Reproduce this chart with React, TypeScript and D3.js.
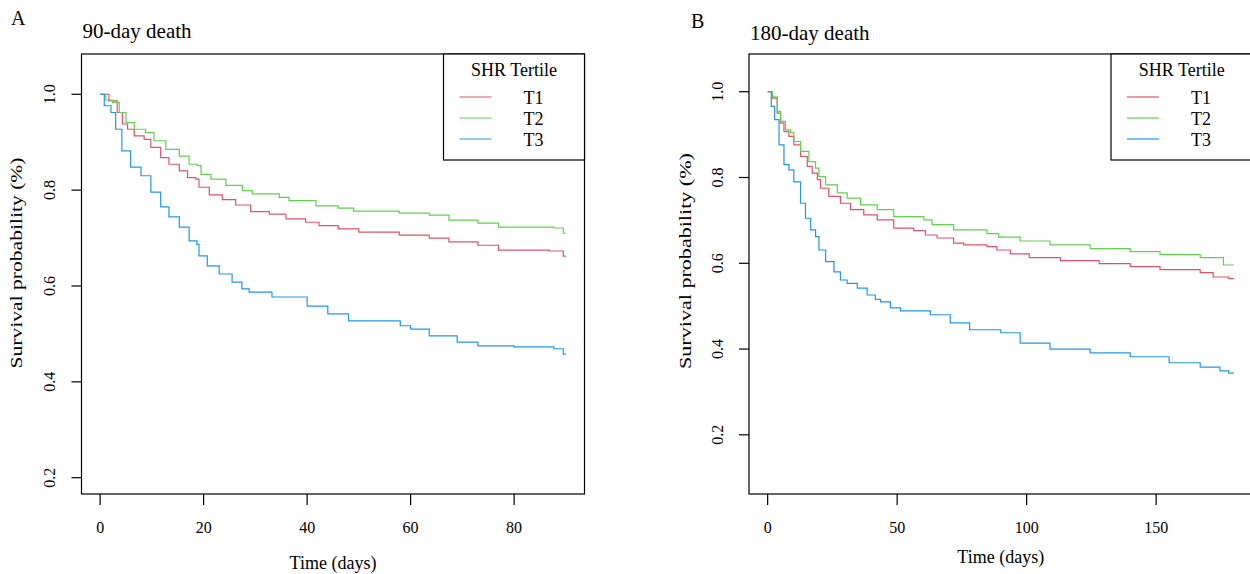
import React from "react";
import * as d3 from "d3";

// ---------- data ----------
const seriesNames = ["T1", "T2", "T3"];
const seriesColors = ["#DF536B", "#61D04F", "#2297E6"];

// Panel A: 90-day death
const a_T1_t = [0, 1.7, 3.3, 4.3, 5.3, 6.6, 8.5, 9.8, 11.7, 13.3, 15.3, 16.9, 18.5, 19.1, 21.1, 23.6, 26.2, 29.1, 32.7, 35.9, 39.7, 42.3, 46, 50, 57.8, 63.6, 67.4, 73, 77, 86.8, 89.5, 90];
const a_T1_s = [1, 0.986, 0.962, 0.938, 0.927, 0.913, 0.906, 0.889, 0.868, 0.854, 0.84, 0.826, 0.823, 0.806, 0.79, 0.78, 0.769, 0.755, 0.75, 0.74, 0.733, 0.726, 0.719, 0.7125, 0.706, 0.7, 0.692, 0.685, 0.675, 0.673, 0.6625, 0.6625];
const a_T2_t = [0, 1.1, 2.4, 3.7, 5, 6.6, 8.8, 10.4, 12.7, 15.3, 17.2, 18.8, 19.5, 21.4, 24.3, 27.5, 29.4, 34.6, 36.5, 41.7, 46, 49, 57.8, 63.6, 67.4, 73, 77, 87.7, 89.5, 90];
const a_T2_s = [1, 0.988, 0.983, 0.962, 0.941, 0.927, 0.92, 0.903, 0.885, 0.871, 0.854, 0.851, 0.833, 0.823, 0.81, 0.799, 0.792, 0.785, 0.778, 0.767, 0.7625, 0.756, 0.752, 0.748, 0.7375, 0.731, 0.723, 0.721, 0.71, 0.71];
const a_T3_t = [0, 0.8, 2.1, 3, 4.2, 5.9, 7.9, 9.8, 11.7, 13.3, 15.3, 17.2, 18.7, 19.1, 20.7, 23, 25.5, 27.4, 28.8, 33.2, 40, 44, 48, 58, 60, 63.6, 69, 73, 80, 87.7, 89.5, 90];
const a_T3_s = [1, 0.976, 0.962, 0.927, 0.882, 0.848, 0.83, 0.796, 0.765, 0.744, 0.723, 0.694, 0.687, 0.663, 0.642, 0.625, 0.608, 0.594, 0.587, 0.577, 0.558, 0.542, 0.527, 0.517, 0.51, 0.496, 0.483, 0.475, 0.473, 0.469, 0.458, 0.458];

// Panel B: 180-day death
const b_T1_t = [0, 1.8, 3.7, 5, 6.3, 8.2, 10.1, 12.7, 15.3, 17.2, 19.2, 20.4, 23.6, 28.1, 32, 37.1, 42.3, 48.7, 56.4, 60.9, 65.4, 71.8, 75.7, 84.7, 88.5, 93.7, 101, 113, 128, 140, 151.5, 167, 172, 178, 180];
const b_T1_s = [1, 0.985, 0.95, 0.927, 0.907, 0.896, 0.876, 0.849, 0.826, 0.81, 0.795, 0.775, 0.756, 0.74, 0.725, 0.713, 0.701, 0.682, 0.676, 0.666, 0.659, 0.647, 0.643, 0.639, 0.631, 0.622, 0.613, 0.606, 0.599, 0.592, 0.585, 0.578, 0.568, 0.564, 0.564];
const b_T2_t = [0, 1.8, 3.7, 5, 6.9, 8.9, 10.1, 12.7, 15.9, 18.5, 19.8, 22.4, 26.9, 30.7, 35.9, 42.3, 48.7, 60.3, 63.5, 71.8, 84.7, 89.2, 97.5, 109, 124.5, 140, 151.5, 167, 176, 180];
const b_T2_s = [1, 0.988, 0.954, 0.931, 0.911, 0.904, 0.884, 0.861, 0.837, 0.822, 0.802, 0.783, 0.764, 0.752, 0.736, 0.725, 0.709, 0.701, 0.69, 0.678, 0.669, 0.661, 0.652, 0.643, 0.634, 0.627, 0.62, 0.613, 0.596, 0.596];
const b_T3_t = [0, 1.4, 2.7, 4.4, 6.3, 8.2, 10.1, 12.7, 14.6, 16.6, 18.5, 19.8, 22.4, 25.6, 28.1, 30.7, 34.6, 38.4, 41.6, 43.6, 47.4, 51.3, 62.8, 70.5, 78, 90, 97.5, 109, 124.5, 140, 155, 167, 174.6, 178, 180];
const b_T3_s = [1, 0.966, 0.935, 0.876, 0.83, 0.818, 0.79, 0.74, 0.705, 0.678, 0.662, 0.631, 0.604, 0.58, 0.561, 0.553, 0.542, 0.526, 0.516, 0.51, 0.496, 0.489, 0.48, 0.461, 0.445, 0.438, 0.414, 0.4, 0.391, 0.382, 0.368, 0.358, 0.349, 0.344, 0.344];

const yTicks = [0.2, 0.4, 0.6, 0.8, 1.0];
const xTicksA = [0, 20, 40, 60, 80];
const xTicksB = [0, 50, 100, 150];

const FONT = "'Liberation Serif', 'DejaVu Serif', serif";

type PanelProps = {
  letter: string;
  letterX: number;
  title: string;
  letterY: number;
  titleY: number;
  left: number;
  right: number;
  xDomain: [number, number];
  yDomain: [number, number];
  xTicks: number[];
  curves: { t: number[]; s: number[] }[];
  legendLeft: number;
  xLabelY: number;
  yLabelX: number;
  yLabelY: number;
  yLabelStretch: number;
  yTickLabelX: number;
};

const TOP = 54;
const BOTTOM = 494;

function Panel(p: PanelProps) {
  const x = d3.scaleLinear().domain(p.xDomain).range([p.left, p.right]);
  const y = d3.scaleLinear().domain(p.yDomain).range([BOTTOM, TOP]);
  const line = d3
    .line<[number, number]>()
    .x((d) => x(d[0]))
    .y((d) => y(d[1]))
    .curve(d3.curveStepAfter);
  const cx = (p.left + p.right) / 2;
  const legRight = p.right;
  const legTop = TOP;
  const legBottom = 160;
  const legMid = (p.legendLeft + legRight) / 2;
  return (
    <g fontFamily={FONT} fill="#000">
      <text x={p.letterX} y={p.letterY} fontSize={20}>
        {p.letter}
      </text>
      <text x={p.left + 1} y={p.titleY} fontSize={21}>
        {p.title}
      </text>
      {p.curves.map((c, i) => (
        <path
          key={i}
          d={line(c.t.map((t, j) => [t, c.s[j]] as [number, number])) || ""}
          fill="none"
          stroke={seriesColors[i]}
          strokeWidth={1.2}
        />
      ))}
      <rect x={p.left} y={TOP} width={p.right - p.left} height={BOTTOM - TOP} fill="none" stroke="#000" strokeWidth={1.2} />
      {yTicks.map((v) => (
        <g key={v}>
          <line x1={p.left - 10} x2={p.left} y1={y(v)} y2={y(v)} stroke="#000" strokeWidth={1.2} />
          <text
            transform={`translate(${p.yTickLabelX},${y(v)}) rotate(-90)`}
            textAnchor="middle"
            fontSize={16}
          >
            {v.toFixed(1)}
          </text>
        </g>
      ))}
      {p.xTicks.map((v) => (
        <g key={v}>
          <line x1={x(v)} x2={x(v)} y1={BOTTOM} y2={BOTTOM + 11} stroke="#000" strokeWidth={1.2} />
          <text x={x(v)} y={533} textAnchor="middle" fontSize={16}>
            {v}
          </text>
        </g>
      ))}
      <text x={cx} y={p.xLabelY} textAnchor="middle" fontSize={18}>
        Time (days)
      </text>
      <text
        transform={`translate(${p.yLabelX},${p.yLabelY}) rotate(-90) scale(${p.yLabelStretch},1)`}
        textAnchor="middle"
        fontSize={17}
      >
        Survival probability (%)
      </text>
      <rect
        x={p.legendLeft}
        y={legTop}
        width={legRight - p.legendLeft}
        height={legBottom - legTop}
        fill="#fff"
        stroke="#000"
        strokeWidth={1.2}
      />
      <text x={legMid} y={76} textAnchor="middle" fontSize={18}>
        SHR Tertile
      </text>
      {seriesNames.map((n, i) => (
        <g key={n}>
          <line
            x1={p.legendLeft + 16}
            x2={p.legendLeft + 48}
            y1={97 + i * 21}
            y2={97 + i * 21}
            stroke={seriesColors[i]}
            strokeWidth={1.2}
          />
          <text x={p.legendLeft + 80} y={104 + i * 21} fontSize={18}>
            {n}
          </text>
        </g>
      ))}
    </g>
  );
}

export default function App() {
  const curvesA = [
    { t: a_T1_t, s: a_T1_s },
    { t: a_T2_t, s: a_T2_s },
    { t: a_T3_t, s: a_T3_s },
  ];
  const curvesB = [
    { t: b_T1_t, s: b_T1_s },
    { t: b_T2_t, s: b_T2_s },
    { t: b_T3_t, s: b_T3_s },
  ];
  return (
    <svg
      width={1250}
      height={574}
      style={{ position: "absolute", left: 0, top: 0, background: "#fff" }}
    >
      <rect x={0} y={0} width={1250} height={574} fill="#fff" />
      <Panel
        letter="A"
        letterX={11}
        title="90-day death"
        letterY={25}
        titleY={38}
        left={81.5}
        right={584.5}
        xDomain={[-3.6, 93.6]}
        yDomain={[0.166, 1.084]}
        xTicks={xTicksA}
        curves={curvesA}
        legendLeft={443.5}
        xLabelY={569}
        yLabelX={22}
        yLabelY={263}
        yLabelStretch={1.27}
        yTickLabelX={55}
      />
      <Panel
        letter="B"
        letterX={691}
        title="180-day death"
        letterY={28}
        titleY={40}
        left={749}
        right={1252.5}
        xDomain={[-7.2, 187.2]}
        yDomain={[0.062, 1.088]}
        xTicks={xTicksB}
        curves={curvesB}
        legendLeft={1111}
        xLabelY={563}
        yLabelX={691}
        yLabelY={261}
        yLabelStretch={1.3}
        yTickLabelX={723}
      />
    </svg>
  );
}
